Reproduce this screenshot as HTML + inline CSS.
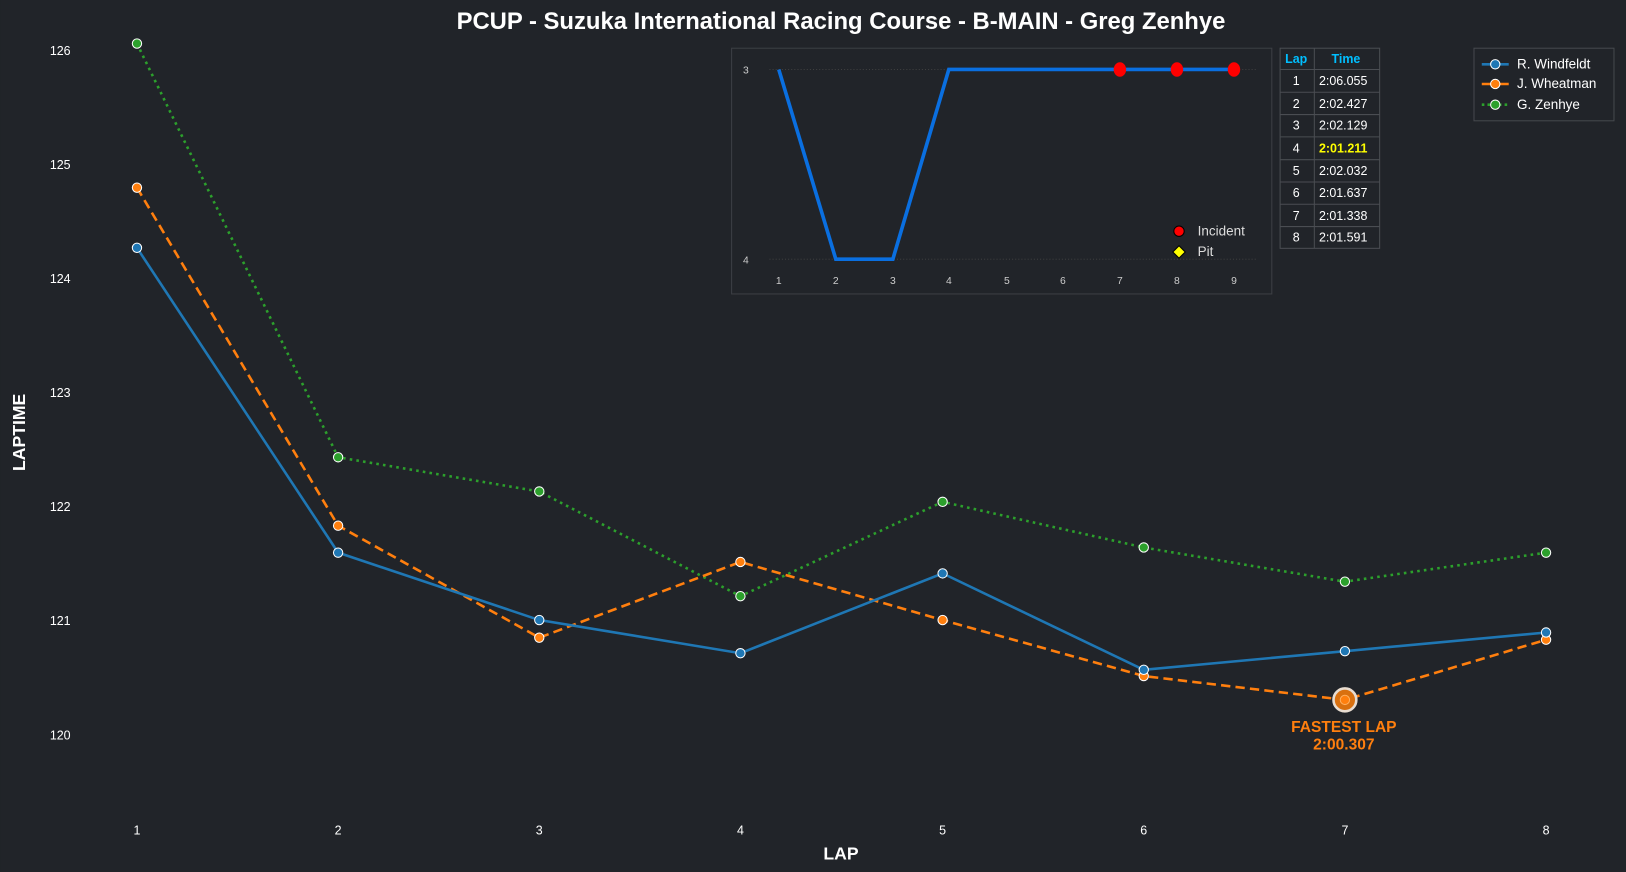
<!DOCTYPE html>
<html><head><meta charset="utf-8"><style>
html,body{margin:0;padding:0;background:#212429;}
svg{display:block;}
text{font-family:"Liberation Sans",Arial,sans-serif;}
</style></head><body>
<svg width="1626" height="872" viewBox="0 0 1568 841" xmlns="http://www.w3.org/2000/svg">
<rect x="0" y="0" width="1568" height="841" fill="#212429"/>
<text x="811" y="28" text-anchor="middle" font-size="23" font-weight="bold" fill="#ffffff">PCUP - Suzuka International Racing Course - B-MAIN - Greg Zenhye</text>
<!-- y ticks -->
<g font-size="12" fill="#ffffff" text-anchor="end">
<text x="68" y="53">126</text><text x="68" y="163">125</text><text x="68" y="273">124</text>
<text x="68" y="383">123</text><text x="68" y="493">122</text><text x="68" y="603">121</text><text x="68" y="713">120</text>
</g>
<g font-size="12" fill="#ffffff" text-anchor="middle">
<text x="132" y="805">1</text><text x="326" y="805">2</text><text x="520" y="805">3</text><text x="714" y="805">4</text>
<text x="909" y="805">5</text><text x="1103" y="805">6</text><text x="1297" y="805">7</text><text x="1491" y="805">8</text>
</g>
<text x="811" y="829" text-anchor="middle" font-size="17" font-weight="bold" fill="#ffffff">LAP</text>
<text transform="translate(24,417) rotate(-90)" text-anchor="middle" font-size="17" font-weight="bold" fill="#ffffff">LAPTIME</text>
<!-- series -->
<polyline fill="none" stroke="#2ca02c" stroke-width="2.5" stroke-dasharray="2.5,4" points="132,42 326,441 520,474 714,575 909,484 1103,528 1297,561 1491,533"/>
<polyline fill="none" stroke="#ff7f0e" stroke-width="2.5" stroke-dasharray="9,5" points="132,181 326,507 520,615 714,542 909,598 1103,652 1297,675 1491,617"/>
<polyline fill="none" stroke="#1f77b4" stroke-width="2.5" points="132,239 326,533 520,598 714,630 909,553 1103,646 1297,628 1491,610"/>
<g stroke="#ffffff" stroke-width="1">
<g fill="#2ca02c"><circle cx="132" cy="42" r="4.5"/><circle cx="326" cy="441" r="4.5"/><circle cx="520" cy="474" r="4.5"/><circle cx="714" cy="575" r="4.5"/><circle cx="909" cy="484" r="4.5"/><circle cx="1103" cy="528" r="4.5"/><circle cx="1297" cy="561" r="4.5"/><circle cx="1491" cy="533" r="4.5"/></g>
<g fill="#ff7f0e"><circle cx="132" cy="181" r="4.5"/><circle cx="326" cy="507" r="4.5"/><circle cx="520" cy="615" r="4.5"/><circle cx="714" cy="542" r="4.5"/><circle cx="909" cy="598" r="4.5"/><circle cx="1103" cy="652" r="4.5"/><circle cx="1491" cy="617" r="4.5"/></g>
<g fill="#1f77b4"><circle cx="132" cy="239" r="4.5"/><circle cx="326" cy="533" r="4.5"/><circle cx="520" cy="598" r="4.5"/><circle cx="714" cy="630" r="4.5"/><circle cx="909" cy="553" r="4.5"/><circle cx="1103" cy="646" r="4.5"/><circle cx="1297" cy="628" r="4.5"/><circle cx="1491" cy="610" r="4.5"/></g>
</g>
<circle cx="1297" cy="675" r="11" fill="#d9700f" stroke="#e8dcd0" stroke-width="2.5"/>
<circle cx="1297" cy="675" r="4.5" fill="#ff7f0e" stroke="#ffb060" stroke-width="1"/>
<text x="1296" y="706" text-anchor="middle" font-size="15" font-weight="bold" fill="#ff7f0e">FASTEST LAP</text>
<text x="1296" y="723" text-anchor="middle" font-size="15" font-weight="bold" fill="#ff7f0e">2:00.307</text>
<!-- inset -->
<rect x="705.5" y="46.5" width="521" height="237" fill="#212429" stroke="#3c3f44" stroke-width="1"/>
<line x1="742" y1="67" x2="1212" y2="67" stroke="#444" stroke-width="0.8" stroke-dasharray="1,2"/>
<line x1="742" y1="250" x2="1212" y2="250" stroke="#444" stroke-width="0.8" stroke-dasharray="1,2"/>
<g font-size="10" fill="#cccccc"><text x="722" y="71" text-anchor="end">3</text><text x="722" y="254" text-anchor="end">4</text></g>
<g font-size="10" fill="#cccccc" text-anchor="middle">
<text x="751" y="274">1</text><text x="806" y="274">2</text><text x="861" y="274">3</text><text x="915" y="274">4</text><text x="971" y="274">5</text><text x="1025" y="274">6</text><text x="1080" y="274">7</text><text x="1135" y="274">8</text><text x="1190" y="274">9</text>
</g>
<polyline fill="none" stroke="#0a6fe0" stroke-width="3.5" points="751,67 806,250 861,250 915,67 1190,67"/>
<g fill="#ff0000"><ellipse cx="1080" cy="67" rx="6" ry="7"/><ellipse cx="1135" cy="67" rx="6" ry="7"/><ellipse cx="1190" cy="67" rx="6" ry="7"/></g>
<circle cx="1137" cy="223" r="5" fill="#ff0000" stroke="#000" stroke-width="1"/>
<polygon points="1137,237 1143,243 1137,249 1131,243" fill="#ffff00" stroke="#000" stroke-width="1"/>
<text x="1155" y="227" font-size="13" fill="#dddddd">Incident</text>
<text x="1155" y="247" font-size="13" fill="#dddddd">Pit</text>
<!-- table -->
<g stroke="#4a4d52" stroke-width="1" fill="none">
<rect x="1234.5" y="46.5" width="96" height="193"/>
<line x1="1267.5" y1="46.5" x2="1267.5" y2="239.5"/>
<line x1="1234.5" y1="67" x2="1330.5" y2="67"/><line x1="1234.5" y1="89" x2="1330.5" y2="89"/><line x1="1234.5" y1="110.5" x2="1330.5" y2="110.5"/><line x1="1234.5" y1="132" x2="1330.5" y2="132"/><line x1="1234.5" y1="154" x2="1330.5" y2="154"/><line x1="1234.5" y1="175.5" x2="1330.5" y2="175.5"/><line x1="1234.5" y1="197" x2="1330.5" y2="197"/><line x1="1234.5" y1="218.5" x2="1330.5" y2="218.5"/>
</g>
<g font-size="12" font-weight="bold" fill="#00bfff" text-anchor="middle"><text x="1250" y="61">Lap</text><text x="1298" y="61">Time</text></g>
<g font-size="12" fill="#ffffff">
<text x="1250" y="82" text-anchor="middle">1</text><text x="1272" y="82">2:06.055</text>
<text x="1250" y="104" text-anchor="middle">2</text><text x="1272" y="104">2:02.427</text>
<text x="1250" y="125" text-anchor="middle">3</text><text x="1272" y="125">2:02.129</text>
<text x="1250" y="147" text-anchor="middle">4</text><text x="1272" y="147" font-weight="bold" fill="#ffff00">2:01.211</text>
<text x="1250" y="169" text-anchor="middle">5</text><text x="1272" y="169">2:02.032</text>
<text x="1250" y="190" text-anchor="middle">6</text><text x="1272" y="190">2:01.637</text>
<text x="1250" y="212" text-anchor="middle">7</text><text x="1272" y="212">2:01.338</text>
<text x="1250" y="233" text-anchor="middle">8</text><text x="1272" y="233">2:01.591</text>
</g>
<!-- legend -->
<rect x="1421.5" y="46.5" width="135" height="70" fill="#212429" stroke="#45484d" stroke-width="1"/>
<line x1="1429" y1="62" x2="1455" y2="62" stroke="#1f77b4" stroke-width="2.5"/><circle cx="1442" cy="62" r="4.5" fill="#1f77b4" stroke="#fff"/>
<line x1="1429" y1="81" x2="1455" y2="81" stroke="#ff7f0e" stroke-width="2.5"/><circle cx="1442" cy="81" r="4.5" fill="#ff7f0e" stroke="#fff"/>
<line x1="1429" y1="101" x2="1455" y2="101" stroke="#2ca02c" stroke-width="2.5" stroke-dasharray="2.5,3"/><circle cx="1442" cy="101" r="4.5" fill="#2ca02c" stroke="#fff"/>
<g font-size="13" fill="#ffffff"><text x="1463" y="66">R. Windfeldt</text><text x="1463" y="85">J. Wheatman</text><text x="1463" y="105">G. Zenhye</text></g>
</svg>
</body></html>
